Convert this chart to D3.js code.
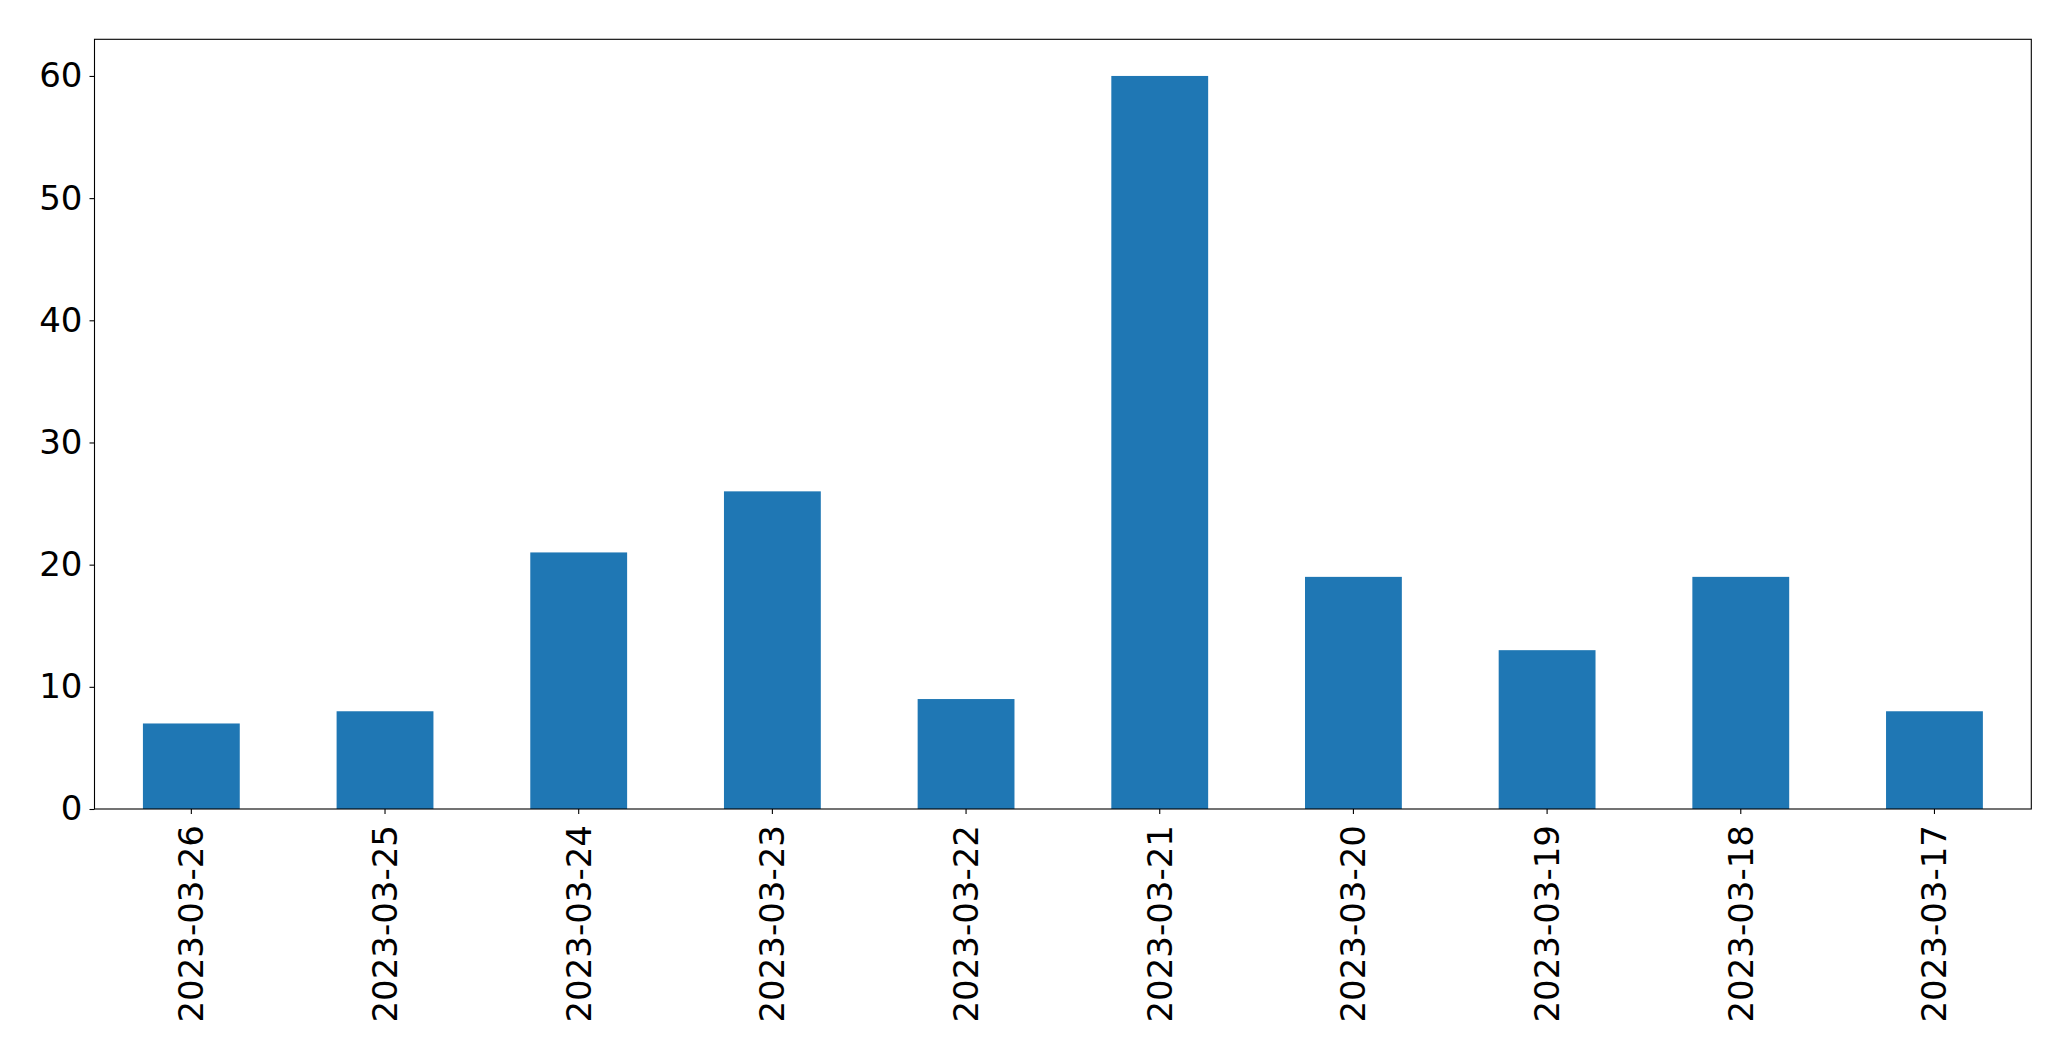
<!DOCTYPE html>
<html>
<head>
<meta charset="utf-8">
<script src="https://cdn.jsdelivr.net/npm/d3@7"></script>
<style>
  html, body { margin: 0; padding: 0; background: #fff; }
  svg { display: block; }
  text { font-family: "DejaVu Sans", sans-serif; }
</style>
</head>
<body>
<svg id="chart" width="2071" height="1061"></svg>
<script>
const categories = ["2023-03-26","2023-03-25","2023-03-24","2023-03-23","2023-03-22","2023-03-21","2023-03-20","2023-03-19","2023-03-18","2023-03-17"];
const values = [7, 8, 21, 26, 9, 60, 19, 13, 19, 8];
const yTicks = [0, 10, 20, 30, 40, 50, 60];

const W = 2071, H = 1061;
const m = { left: 94.5, right: W - 2031.3, top: 39.3, bottom: H - 809 };
const svg = d3.select("#chart");
const iw = W - m.left - m.right, ih = H - m.top - m.bottom;
const g = svg.append("g").attr("transform", `translate(${m.left},${m.top})`);

const x = d3.scaleBand().domain(categories).range([0, iw]).paddingInner(0.5).paddingOuter(0.25);
const y = d3.scaleLinear().domain([0, d3.max(values) * 1.05]).range([ih, 0]);

g.selectAll("rect.bar").data(values).join("rect")
  .attr("class", "bar")
  .attr("x", (d, i) => x(categories[i]))
  .attr("width", x.bandwidth())
  .attr("y", d => y(d))
  .attr("height", d => ih - y(d))
  .attr("fill", "#1f77b4");

const fs = 34;
const yAxis = g.append("g").call(d3.axisLeft(y).tickValues(yTicks).tickSize(5).tickPadding(7).tickFormat(d3.format("d")));
yAxis.select(".domain").remove();
yAxis.selectAll("line").attr("stroke", "#000").attr("stroke-width", 1.1);
yAxis.selectAll("text").attr("font-size", fs).attr("fill", "#000").attr("font-family", "DejaVu Sans");

const xAxis = g.append("g").attr("transform", `translate(0,${ih})`).call(d3.axisBottom(x).tickSize(5).tickPadding(0));
xAxis.select(".domain").remove();
xAxis.selectAll("line").attr("stroke", "#000").attr("stroke-width", 1.1);
xAxis.selectAll("text")
  .attr("font-size", fs).attr("fill", "#000").attr("font-family", "DejaVu Sans")
  .attr("transform", "rotate(-90)")
  .attr("text-anchor", "end")
  .attr("x", -16).attr("y", 0).attr("dy", "0.35em");

g.append("rect").attr("x", 0).attr("y", 0).attr("width", iw).attr("height", ih)
  .attr("fill", "none").attr("stroke", "#000").attr("stroke-width", 1.1);
</script>
</body>
</html>
